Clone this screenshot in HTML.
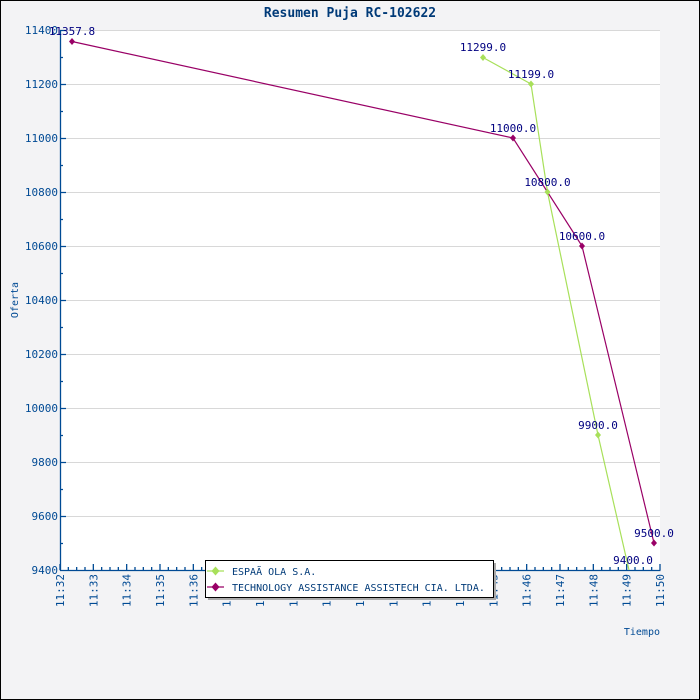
<!DOCTYPE html>
<html><head><meta charset="utf-8"><style>
html,body{margin:0;padding:0;background:#f3f3f5;}
svg{display:block;font-family:"DejaVu Sans Mono","Liberation Mono",monospace;}
</style></head><body>
<svg width="700" height="700" viewBox="0 0 700 700">
<rect x="0.5" y="0.5" width="699" height="699" fill="#f3f3f5" stroke="#000"/>
<rect x="60" y="30" width="600" height="540" fill="#fff"/>
<g stroke="#d8d8d8" stroke-width="1">
<line x1="60" x2="660" y1="30.5" y2="30.5"/><line x1="60" x2="660" y1="84.5" y2="84.5"/>
<line x1="60" x2="660" y1="138.5" y2="138.5"/><line x1="60" x2="660" y1="192.5" y2="192.5"/>
<line x1="60" x2="660" y1="246.5" y2="246.5"/><line x1="60" x2="660" y1="300.5" y2="300.5"/>
<line x1="60" x2="660" y1="354.5" y2="354.5"/><line x1="60" x2="660" y1="408.5" y2="408.5"/>
<line x1="60" x2="660" y1="462.5" y2="462.5"/><line x1="60" x2="660" y1="516.5" y2="516.5"/>
</g>
<text x="350" y="17" text-anchor="middle" font-size="13" font-weight="bold" fill="#003a78">Resumen Puja RC-102622</text>
<g stroke="#004a94" stroke-width="1.3" fill="none">
<line x1="60.5" y1="30" x2="60.5" y2="571"/>
<line x1="60" y1="570.5" x2="660.5" y2="570.5"/>
<path d="M60 30.5h6M60 57.5h3M60 84.5h6M60 111.5h3M60 138.5h6M60 165.5h3M60 192.5h6M60 219.5h3M60 246.5h6M60 273.5h3M60 300.5h6M60 327.5h3M60 354.5h6M60 381.5h3M60 408.5h6M60 435.5h3M60 462.5h6M60 489.5h3M60 516.5h6M60 543.5h3"/>
</g>
<g stroke="#004a94" stroke-width="1.3" id="xt"></g>
<g font-size="11" fill="#004a94" text-anchor="end">
<text x="58" y="34">11400</text><text x="58" y="88">11200</text><text x="58" y="142">11000</text>
<text x="58" y="196">10800</text><text x="58" y="250">10600</text><text x="58" y="304">10400</text>
<text x="58" y="358">10200</text><text x="58" y="412">10000</text><text x="58" y="466">9800</text>
<text x="58" y="520">9600</text><text x="58" y="574">9400</text>
</g>
<text transform="translate(18,300) rotate(-90)" text-anchor="middle" font-size="10" fill="#004a94">Oferta</text>
<text x="660" y="635" text-anchor="end" font-size="10" fill="#004a94">Tiempo</text>
<g id="xl" font-size="11" fill="#004a94"></g>
<polyline points="483,57.5 531,84 547.5,192 598,435 629,570" fill="none" stroke="#a8e05a" stroke-width="1.2"/>
<polyline points="72,41.5 513,138 582,246 654,543" fill="none" stroke="#990066" stroke-width="1.2"/>
<g fill="#a8e05a">
<path d="M483 54l3 3.5-3 3.5-3-3.5z"/><path d="M531 80.5l3 3.5-3 3.5-3-3.5z"/><path d="M547.5 188.5l3 3.5-3 3.5-3-3.5z"/><path d="M598 431.5l3 3.5-3 3.5-3-3.5z"/>
</g>
<g fill="#990066">
<path d="M72 38l3 3.5-3 3.5-3-3.5z"/><path d="M513 134.5l3 3.5-3 3.5-3-3.5z"/><path d="M582 242.5l3 3.5-3 3.5-3-3.5z"/><path d="M654 539.5l3 3.5-3 3.5-3-3.5z"/>
</g>
<g font-size="11" fill="#000080" text-anchor="middle">
<text x="483" y="51">11299.0</text><text x="531" y="78">11199.0</text><text x="547.5" y="186">10800.0</text>
<text x="598" y="429">9900.0</text><text x="633" y="564">9400.0</text>
<text x="72" y="35">11357.8</text><text x="513" y="132">11000.0</text><text x="582" y="240">10600.0</text><text x="654" y="537">9500.0</text>
</g>
<rect x="208" y="563" width="288" height="37" fill="#aaa"/>
<rect x="205.5" y="560.5" width="288" height="37" fill="#fff" stroke="#000"/>
<line x1="207" x2="224" y1="571" y2="571" stroke="#a8e05a" stroke-width="1.3"/>
<path d="M215.5 566.5l4 4.5-4 4.5-4-4.5z" fill="#a8e05a"/>
<line x1="207" x2="224" y1="587" y2="587" stroke="#990066" stroke-width="1.3"/>
<path d="M215.5 582.5l4 4.5-4 4.5-4-4.5z" fill="#990066"/>
<g font-size="10" fill="#003a78"><text x="232" y="575">ESPAÃ OLA S.A.</text><text x="232" y="591">TECHNOLOGY ASSISTANCE ASSISTECH CIA. LTDA.</text></g>
</svg>
<script>
var ns="http://www.w3.org/2000/svg",g=document.getElementById("xt"),l=document.getElementById("xl");
var d="";
for(var i=0;i<=72;i++){var x=60+i*600/72;d+="M"+x.toFixed(2)+" 570v"+(i%4==0?-6:-3);}
var p=document.createElementNS(ns,"path");p.setAttribute("d",d);g.appendChild(p);
for(var m=0;m<=18;m++){var x=60+m*600/18;var t=document.createElementNS(ns,"text");
t.setAttribute("transform","translate("+(x+4)+",574) rotate(-90)");t.setAttribute("text-anchor","end");
t.textContent="11:"+(32+m);l.appendChild(t);}
</script>
</body></html>
